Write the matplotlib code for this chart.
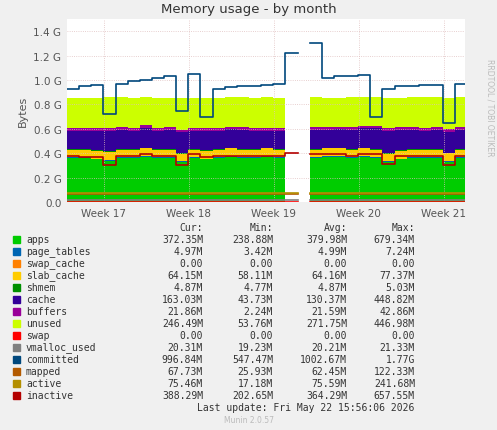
import matplotlib
matplotlib.use("Agg")
import matplotlib.pyplot as plt
import numpy as np

nan = np.nan
days = list(range(34))
G = 1e9
apps =        [0.36,0.36,0.35,0.34,0.36,0.36,0.37,0.36,0.36,0.33,0.36,0.35,0.36,0.37,0.36,0.36,0.37,0.36,0.37,nan,0.36,0.37,0.37,0.36,0.37,0.36,0.33,0.35,0.36,0.36,0.36,0.33,0.36,0.36]
page_tables = [0.005]*19+[nan]+[0.005]*14
swap_cache =  [0.0]*19+[nan]+[0.0]*14
slab_cache =  [0.064,0.064,0.063,0.065,0.064,0.064,0.066,0.064,0.064,0.062,0.064,0.064,0.064,0.065,0.064,0.064,0.064,0.064,0.065,nan,0.064,0.064,0.065,0.064,0.064,0.064,0.062,0.064,0.064,0.064,0.064,0.063,0.064,0.064]
shmem =       [0.005]*19+[nan]+[0.005]*14
cache =       [0.15,0.15,0.16,0.17,0.16,0.15,0.16,0.15,0.16,0.17,0.15,0.16,0.15,0.15,0.16,0.15,0.14,0.15,0.14,nan,0.16,0.15,0.15,0.16,0.16,0.17,0.18,0.17,0.16,0.15,0.16,0.17,0.16,0.16]
buffers =     [0.022]*19+[nan]+[0.022]*14
unused =      [0.245,0.245,0.25,0.255,0.245,0.25,0.23,0.25,0.24,0.26,0.25,0.245,0.25,0.24,0.245,0.25,0.255,0.25,0.245,nan,0.245,0.24,0.235,0.245,0.235,0.235,0.245,0.235,0.245,0.255,0.245,0.255,0.245,0.245]
committed =   [0.93,0.95,0.96,0.72,0.97,0.99,1.00,1.02,1.03,0.75,1.05,0.70,0.93,0.94,0.95,0.95,0.96,0.97,1.22,nan,1.30,1.02,1.03,1.03,1.04,0.70,0.93,0.95,0.95,0.96,0.96,0.65,0.97,0.98]
inactive =    [0.38,0.37,0.37,0.30,0.38,0.38,0.39,0.38,0.38,0.30,0.39,0.37,0.38,0.38,0.38,0.38,0.38,0.38,0.40,nan,0.39,0.39,0.39,0.38,0.39,0.39,0.31,0.38,0.38,0.38,0.38,0.30,0.38,0.38]
active =      [0.075]*19+[nan]+[0.075]*14
mapped =      [0.068]*19+[nan]+[0.068]*14
vmalloc =     [0.020]*19+[nan]+[0.020]*14
swap =        [0.0]*19+[nan]+[0.0]*14

stack_names = ["apps","page_tables","swap_cache","slab_cache","shmem","cache","buffers","unused"]
stack_vals = [apps,page_tables,swap_cache,slab_cache,shmem,cache,buffers,unused]
stack_cols = ["#00CC00","#0066B3","#FF8000","#FFCC00","#008F00","#330099","#990099","#CCFF00"]
line_names = ["swap","vmalloc_used","committed","mapped","active","inactive"]
line_vals = [swap,vmalloc,committed,mapped,active,inactive]
line_cols = ["#FF0000","#808080","#00487D","#B35A00","#B38F00","#B30000"]
legend_rows = [
 ("apps","372.35M","238.88M","379.98M","679.34M"),
 ("page_tables","4.97M","3.42M","4.99M","7.24M"),
 ("swap_cache","0.00","0.00","0.00","0.00"),
 ("slab_cache","64.15M","58.11M","64.16M","77.37M"),
 ("shmem","4.87M","4.77M","4.87M","5.03M"),
 ("cache","163.03M","43.73M","130.37M","448.82M"),
 ("buffers","21.86M","2.24M","21.59M","42.86M"),
 ("unused","246.49M","53.76M","271.75M","446.98M"),
 ("swap","0.00","0.00","0.00","0.00"),
 ("vmalloc_used","20.31M","19.23M","20.21M","21.33M"),
 ("committed","996.84M","547.47M","1002.67M","1.77G"),
 ("mapped","67.73M","25.93M","62.45M","122.33M"),
 ("active","75.46M","17.18M","75.59M","241.68M"),
 ("inactive","388.29M","202.65M","364.29M","657.55M"),
]
leg_cols = stack_cols + line_cols

fig = plt.figure(figsize=(4.97,4.31), dpi=100, facecolor="#F0F0F0")
ax = fig.add_axes([67/497, 1-203/431, 398/497, 183/431])
ax.set_facecolor("white")
x = np.array(days, dtype=float)
base = np.zeros(len(x))
for v,c in zip(stack_vals, stack_cols):
    v = np.array(v)*G
    ax.fill_between(x, base, base+v, step="post", color=c, lw=0)
    base = base+np.nan_to_num(v)
for v,c in zip(line_vals, line_cols):
    ax.step(x, np.array(v)*G, where="post", color=c, lw=1.2)
ax.set_xlim(0, 32.8)
ax.set_ylim(0, 1.5e9)
ax.set_yticks([0,0.2e9,0.4e9,0.6e9,0.8e9,1.0e9,1.2e9,1.4e9])
ax.set_yticklabels(["0.0","0.2 G","0.4 G","0.6 G","0.8 G","1.0 G","1.2 G","1.4 G"])
wk = [37/12.14+i*7 for i in range(5)]
ax.set_xticks(wk)
ax.set_xticklabels(["Week 17","Week 18","Week 19","Week 20","Week 21"])
ax.tick_params(labelsize=7.5, colors="#555555", length=0, pad=4)
ax.grid(True, color="#E0C0C0", ls=":", lw=0.6)
for s in ax.spines.values(): s.set_visible(False)
ax.set_ylabel("Bytes", fontsize=8, color="#555555")
fig.text(0.5, 1-10/431, "Memory usage - by month", ha="center", va="center", fontsize=9.5, color="#333333")
fig.text(0.985, 0.75, "RRDTOOL / TOBI OETIKER", rotation=270, fontsize=5.5, color="#BBBBBB", ha="center", va="center")
mono = "DejaVu Sans Mono"
y0 = 1-240/431; dy = 12.0/431
hdr = 1-228/431
for t,xx in zip(["Cur:","Min:","Avg:","Max:"],[202,272,346,414]):
    fig.text((xx+1)/497, hdr, t, family=mono, fontsize=7, ha="right", va="center", color="#333333")
for i,(r,c) in enumerate(zip(legend_rows, leg_cols)):
    yy = y0-i*dy
    fig.patches.append(plt.Rectangle((13/497, yy-3.5/431), 7/497, 7/431, transform=fig.transFigure, color=c))
    fig.text(26/497, yy, r[0], family=mono, fontsize=7, va="center", color="#333333")
    for t,xx in zip(r[1:],[202,272,346,414]):
        fig.text((xx+1)/497, yy, t, family=mono, fontsize=7, ha="right", va="center", color="#333333")
fig.text(414/497, 1-408/431, "Last update: Fri May 22 15:56:06 2026", family=mono, fontsize=7, ha="right", va="center", color="#333333")
fig.text(0.5, 1-421/431, "Munin 2.0.57", fontsize=5.5, ha="center", va="center", color="#BBBBBB")
fig.savefig("out.png", dpi=100, facecolor=fig.get_facecolor())
